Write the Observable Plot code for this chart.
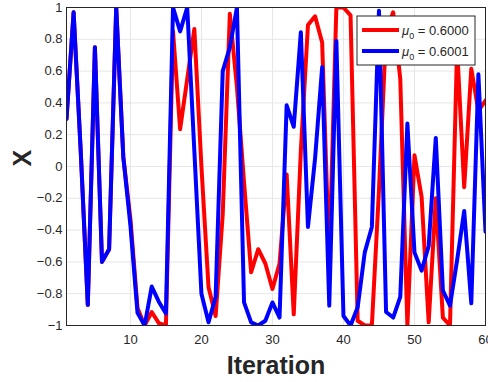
<!DOCTYPE html>
<html><head><meta charset="utf-8">
<script src="https://cdn.jsdelivr.net/npm/d3@7"></script>
<script src="https://cdn.jsdelivr.net/npm/@observablehq/plot@0.6"></script>
<style>
body{margin:0;background:#fff;}
#chart svg{font-family:"Liberation Sans",Arial,sans-serif;}
</style>
</head><body><div id="chart"></div>
<script>
const iterations = d3.range(1, 61);
const redValues = [0.30, 0.97, 0.10, -0.87, 0.75, -0.60, -0.52, 1.00, 0.06, -0.33,
  -0.89, -1.00, -0.915, -0.985, -1.00, 0.85, 0.235, 0.55, 0.865, 0.0,
  -0.76, -0.94, -0.30, 0.96, 0.50, -0.10, -0.665, -0.52, -0.61, -0.77,
  -0.61, -0.05, -0.93, 0.10, 0.89, 0.945, 0.78, -0.60, 1.00, 1.00,
  0.95, -0.97, -1.00, -1.00, -0.15, 0.85, 0.97, 0.55, -1.00, 0.07,
  -0.19, -0.98, -0.20, -0.95, -1.00, 0.75, -0.13, 0.615, 0.35, 0.415];
const blueValues = [0.30, 0.97, 0.10, -0.87, 0.75, -0.60, -0.52, 1.00, 0.06, -0.37,
  -0.92, -1.00, -0.755, -0.85, -0.925, 1.00, 0.85, 1.00, 0.10, -0.80,
  -0.98, -0.82, 0.60, 0.75, 1.00, -0.855, -0.98, -1.00, -0.97, -0.855,
  -0.95, 0.385, 0.25, 0.845, -0.38, 0.05, 0.625, -0.875, 0.79, -0.94,
  -1.00, -0.885, -0.54, -0.38, 0.98, -0.915, -0.95, -0.82, 0.27, -0.54,
  -0.655, -0.50, 0.18, -0.78, -0.875, -0.59, -0.28, -0.86, 0.58, -0.41];
const xTicks = [10, 20, 30, 40, 50, 60];
const yTicks = [-1, -0.8, -0.6, -0.4, -0.2, 0, 0.2, 0.4, 0.6, 0.8, 1];
const seriesLabels = ["0.6000", "0.6001"];
const seriesColors = ["#ff0000", "#0000ff"];
const xLabel = "Iteration";
const yLabel = "X";

const redData = iterations.map((t, i) => ({t, v: redValues[i]}));
const blueData = iterations.map((t, i) => ({t, v: blueValues[i]}));

const chart = Plot.plot({
  width: 488, height: 382,
  marginLeft: 66, marginRight: 3, marginTop: 7, marginBottom: 57,
  style: {fontFamily: '"Liberation Sans",Arial,sans-serif', fontSize: "13px", color: "#262626", background: "#fff"},
  x: {domain: [1, 60]},
  y: {domain: [-1, 1]},
  marks: [
    Plot.gridX(xTicks, {stroke: "#e6e6e6", strokeOpacity: 1}),
    Plot.gridY(yTicks, {stroke: "#e6e6e6", strokeOpacity: 1}),
    Plot.line(redData, {x: "t", y: "v", stroke: seriesColors[0], strokeWidth: 4, clip: true}),
    Plot.line(blueData, {x: "t", y: "v", stroke: seriesColors[1], strokeWidth: 4, clip: true}),
    Plot.frame({stroke: "#262626", strokeWidth: 1}),
    Plot.axisX(xTicks, {tickSize: 0, tickPadding: 9, label: null, fill: "#262626", fontSize: 13}),
    Plot.axisY(yTicks, {tickSize: 0, tickPadding: 4, label: null, fill: "#262626", fontSize: 13,
      tickFormat: d => d3.format("")(Math.round(d * 10) / 10)}),
    Plot.text([xLabel], {frameAnchor: "bottom", dy: 48, text: d => d, fontSize: 25, fontWeight: "bold", fill: "#262626"}),
    Plot.text([yLabel], {frameAnchor: "left", dx: -44, rotate: -90, text: d => d, fontSize: 25, fontWeight: "bold", fill: "#262626"})
  ]
});
document.getElementById("chart").appendChild(chart);

// legend
const svg = d3.select(chart);
const lg = svg.append("g").attr("transform", "translate(357,16)");
lg.append("rect").attr("width", 118).attr("height", 49).attr("fill", "#fff").attr("stroke", "#262626").attr("stroke-width", 1);
seriesLabels.forEach((lab, i) => {
  const y = 14 + i * 21;
  lg.append("line").attr("x1", 5).attr("x2", 42).attr("y1", y).attr("y2", y)
    .attr("stroke", seriesColors[i]).attr("stroke-width", 4);
  const t = lg.append("text").attr("x", 45).attr("y", y + 5).attr("font-size", 13).attr("fill", "#262626")
    .attr("text-anchor", "start")
    .style("font-family", '"Liberation Sans",Arial,sans-serif');
  t.append("tspan").attr("font-style", "italic").text("μ");
  t.append("tspan").attr("font-size", 9).attr("dy", 4).text("0");
  t.append("tspan").attr("dy", -4).text(" = " + lab);
});
</script>
</body></html>
